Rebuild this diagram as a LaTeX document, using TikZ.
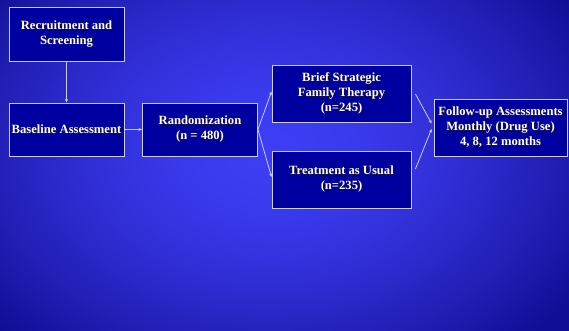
\documentclass[tikz,border=0pt]{standalone}
\usepackage{fontspec}
\setmainfont{Liberation Serif}
\usetikzlibrary{arrows.meta,calc}
\definecolor{bgA}{RGB}{62,62,245}
\definecolor{bgB}{RGB}{57,57,236}
\definecolor{bgC}{RGB}{46,44,208}
\definecolor{bgD}{RGB}{32,30,178}
\definecolor{bgE}{RGB}{14,14,150}
\definecolor{boxfill}{RGB}{0,0,160}
\definecolor{boxline}{RGB}{205,205,255}
\definecolor{txtshadow}{RGB}{20,20,40}
\pgfdeclareradialshading{slidebg}{\pgfpoint{0bp}{0bp}}{color(0bp)=(bgA); color(6bp)=(bgB); color(12.5bp)=(bgC); color(18bp)=(bgD); color(23bp)=(bgE); color(25bp)=(bgE); color(50bp)=(bgE)}
\newcommand{\shtxt}[1]{\rlap{\raisebox{-0.9pt}{\hspace{0.9pt}\textcolor{txtshadow}{#1}}}#1}
\tikzset{
  stagebox/.style={draw=boxline, line width=0.9pt, fill=boxfill, text=white,
    align=center, inner sep=1pt, font=\fontsize{12.6}{15}\selectfont\bfseries},
  link/.style={draw=boxline, line width=0.8pt, -{Stealth[length=3.5pt,width=3pt]}}
}
\begin{document}
\begin{tikzpicture}[x=1pt,y=-1pt]
\useasboundingbox (0,0) rectangle (569,331);
\begin{scope}
\clip (0,0) rectangle (569,331);
\fill[bgE] (0,0) rectangle (569,331);
\shade[shading=slidebg] (270,150) ellipse [x radius=400, y radius=285];
\end{scope}
\node[stagebox, minimum width=115pt, minimum height=54pt] (rec) at (66.5,34) {\shtxt{Recruitment and}\\\shtxt{Screening}};
\node[stagebox, minimum width=115pt, minimum height=53pt] (base) at (66.5,129.5) {\shtxt{Baseline Assessment}};
\node[stagebox, minimum width=115pt, minimum height=53pt] (rand) at (200,129.5) {\shtxt{Randomization}\\\shtxt{(n = 480)}};
\node[stagebox, minimum width=139pt, minimum height=57pt] (bsft) at (341.5,93.5) {\shtxt{Brief Strategic}\\\shtxt{Family Therapy}\\\shtxt{(n=245)}};
\node[stagebox, minimum width=139pt, minimum height=57pt] (tau) at (341.5,179.5) {\shtxt{Treatment as Usual}\\\shtxt{(n=235)}};
\node[stagebox, minimum width=133pt, minimum height=57pt] (fu) at (500.5,127.5) {\shtxt{Follow-up Assessments}\\\shtxt{Monthly (Drug Use)}\\\shtxt{4, 8, 12 months}};
\coordinate (bsftout) at ($(bsft.east)+(4,0.5)$);
\coordinate (tauout) at ($(tau.east)+(4,-10.5)$);
\coordinate (fuinA) at ($(fu.west)+(-2,-4)$);
\coordinate (fuinB) at ($(fu.west)+(-2,1.5)$);
\coordinate (bsftin) at ($(bsft.west)+(0,-2)$);
\coordinate (tauin) at ($(tau.west)+(0,-2.5)$);
\path[link] (rec) -- (base);
\path[link] (base) -- (rand);
\path[link] (rand.east) -- (bsftin);
\path[link] (rand.east) -- (tauin);
\path[link] (bsftout) -- (fuinA);
\path[link] (tauout) -- (fuinB);
\end{tikzpicture}
\end{document}
